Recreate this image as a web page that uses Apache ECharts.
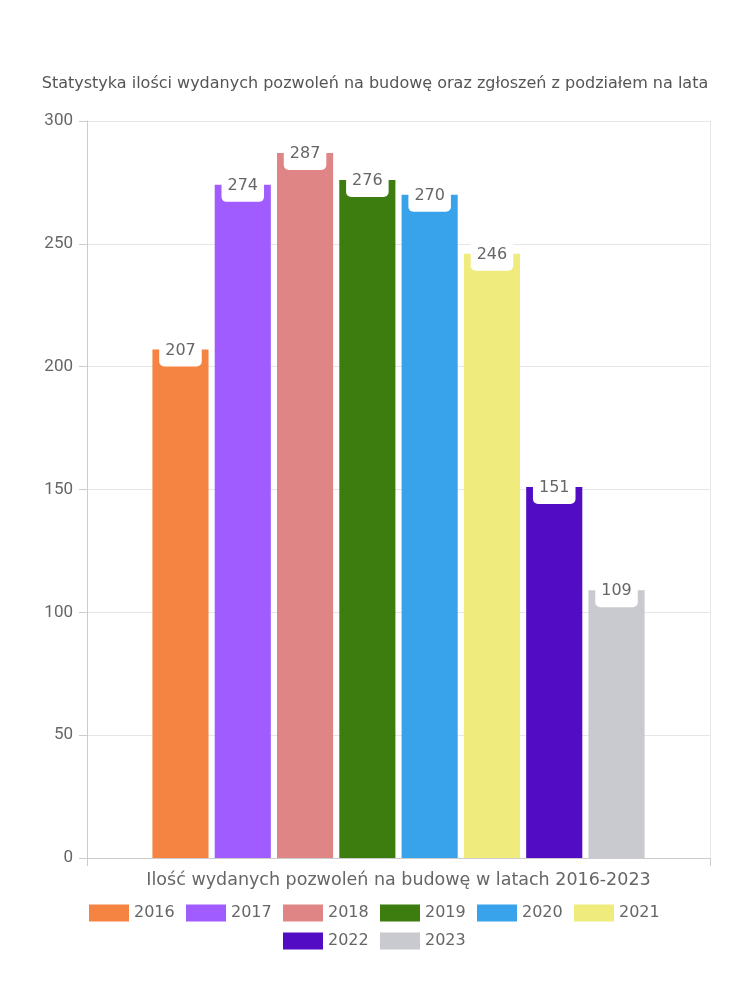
<!DOCTYPE html>
<html><head><meta charset="utf-8">
<script src="https://cdn.jsdelivr.net/npm/echarts@6/dist/echarts.min.js"></script>
<style>html,body{margin:0;padding:0;background:#fff}#c{width:750px;height:1000px}</style>
</head><body><div id="c"></div>
<script>
const titleText = 'Statystyka ilości wydanych pozwoleń na budowę oraz zgłoszeń z podziałem na lata';
const categories = ['Ilość wydanych pozwoleń na budowę w latach 2016-2023'];
const years = ['2016','2017','2018','2019','2020','2021','2022','2023'];
const values = [207, 274, 287, 276, 270, 246, 151, 109];
const colors = ['#f58442','#a05cff','#e08585','#3d7d0f','#38a3eb','#f0eb7d','#520cc4','#c9cacf'];
const yTicks = [0, 50, 100, 150, 200, 250, 300];

const chart = echarts.init(document.getElementById('c'));
const font = '"DejaVu Sans", sans-serif';
const legendBase = {
  left: 'center', itemWidth: 40, itemHeight: 17, itemGap: 10, icon: 'rect',
  textStyle: {fontFamily: font, fontSize: 16, color: '#666', width: 42, lineHeight: 18}
};
chart.setOption({
  animation: false,
  color: colors,
  title: {text: titleText, left: 'center', top: 71, textStyle: {fontFamily: font, fontSize: 16, fontWeight: 'normal', color: '#555'}},
  grid: {left: 87, right: 40, top: 121, bottom: 142},
  legend: [
    Object.assign({}, legendBase, {top: 899, data: years.slice(0, 6)}),
    Object.assign({}, legendBase, {top: 927, data: years.slice(6)})
  ],
  xAxis: {
    type: 'category', data: categories,
    axisLine: {show: true, lineStyle: {color: '#ccc'}},
    axisTick: {show: true, length: 8, lineStyle: {color: '#ccc'}},
    splitLine: {show: true, lineStyle: {color: '#e6e6e6'}},
    axisLabel: {fontFamily: font, fontSize: 17.5, color: '#666', margin: 13}
  },
  yAxis: {
    type: 'value', min: yTicks[0], max: yTicks[yTicks.length-1], interval: 50,
    axisLine: {show: true, lineStyle: {color: '#ccc'}},
    axisTick: {show: true, length: 8, lineStyle: {color: '#ccc'}},
    splitLine: {show: true, lineStyle: {color: '#e6e6e6'}},
    axisLabel: {fontFamily: 'Roboto, sans-serif', fontSize: 17, color: '#666', margin: 14}
  },
  series: years.map((y, i) => ({
    name: y, type: 'bar', data: [values[i]],
    barGap: '11%', barCategoryGap: '21%',
    itemStyle: {color: colors[i]},
    label: {
      show: true, position: 'insideTop', distance: 0, offset: [0, -15],
      backgroundColor: '#fff', borderRadius: 5, padding: [8, 6],
      fontFamily: font, fontSize: 16, color: '#666'
    }
  }))
});
</script></body></html>
